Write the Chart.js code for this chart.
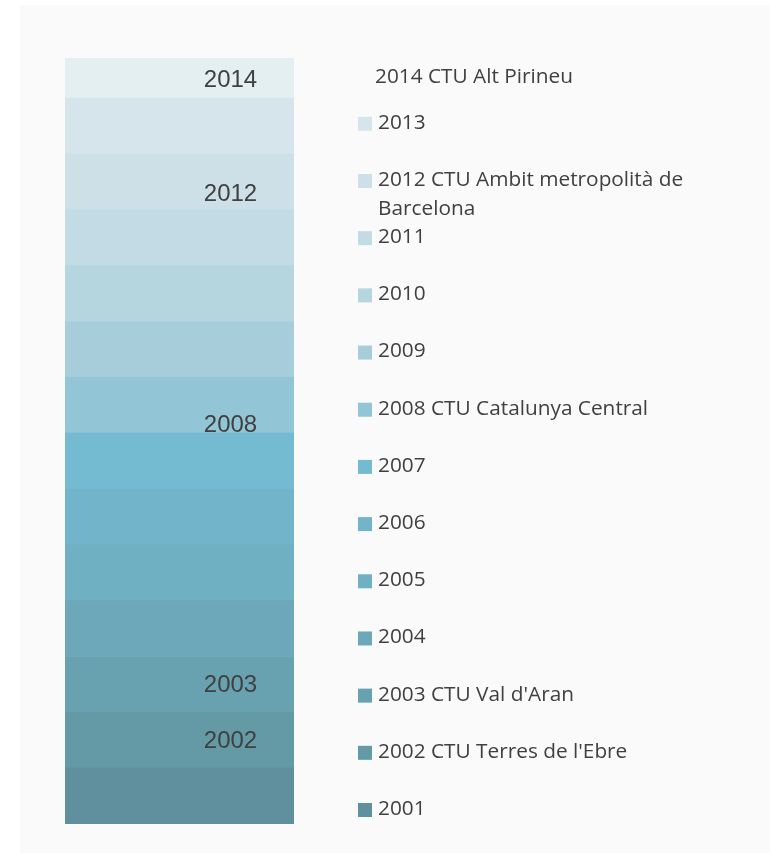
<!DOCTYPE html>
<html>
<head>
<meta charset="utf-8">
<title>CTU per any</title>
<script src="https://cdn.jsdelivr.net/npm/chart.js@4.4.1/dist/chart.umd.min.js"></script>
<style>
  html, body { margin: 0; padding: 0; background: #fff; }
  #wrap { position: relative; width: 770px; height: 853px; }
</style>
</head>
<body>
<div id="wrap"><canvas id="ctu" width="770" height="853"></canvas></div>
<script>
(function () {
  'use strict';

  // --- data (bottom of the stack first) ---
  const years = ['2001', '2002', '2003', '2004', '2005', '2006', '2007',
                 '2008', '2009', '2010', '2011', '2012', '2013', '2014'];
  const legendNames = [
    '2001',
    "2002 CTU Terres de l'Ebre",
    "2003 CTU Val d'Aran",
    '2004', '2005', '2006', '2007',
    '2008 CTU Catalunya Central',
    '2009', '2010', '2011',
    '2012 CTU Ambit metropolità de Barcelona',
    '2013',
    '2014 CTU Alt Pirineu'
  ];
  const segmentValues = [1, 1, 1, 1, 1, 1, 1, 1, 1, 1, 1, 1, 1, 0.72];
  const barLabels = ['', '2002', '2003', '', '', '', '', '2008', '', '', '', '2012', '', '2014'];

  // --- styling ---
  const colors = ['#60909d', '#6499a6', '#68a2b0', '#6ca8b9', '#6fb0c2', '#72b5ca', '#74bbd2',
                  '#92c5d6', '#a7ccda', '#b5d5df', '#c2dbe4', '#cde0e7', '#d6e5eb', '#e3eff1'];
  const labelNudge = { '2012': 11, '2008': 19, '2014': 1 };
  const noSwatch = { '2014': true };
  const INK = '#404040';
  const W = 770, H = 853;

  const panel = {
    id: 'panel',
    beforeDraw(chart) {
      const ctx = chart.ctx;
      ctx.save();
      ctx.fillStyle = '#fafafa';
      ctx.fillRect(20, 5, W - 20, H - 5);
      ctx.restore();
    }
  };

  // year numbers written inside the bar
  const segLabels = {
    id: 'segLabels',
    afterDatasetsDraw(chart) {
      const ctx = chart.ctx;
      ctx.save();
      ctx.font = '24px "Liberation Sans", Arial, sans-serif';
      ctx.fillStyle = INK;
      ctx.textAlign = 'center';
      ctx.textBaseline = 'middle';
      chart.data.datasets.forEach((ds, i) => {
        const txt = barLabels[i];
        if (!txt) return;
        const bar = chart.getDatasetMeta(i).data[0];
        const mid = (bar.y + bar.base) / 2 + (labelNudge[txt] || 0);
        ctx.fillText(txt, bar.x + 51, mid + 1);
      });
      ctx.restore();
    }
  };

  function wrap(ctx, text, maxW) {
    const words = text.split(' ');
    const lines = [];
    let cur = '';
    words.forEach(w => {
      const t = cur ? cur + ' ' + w : w;
      if (cur && ctx.measureText(t).width > maxW) { lines.push(cur); cur = w; }
      else cur = t;
    });
    if (cur) lines.push(cur);
    return lines;
  }

  // legend on the right, newest year on top, evenly spaced rows
  const sideLegend = {
    id: 'sideLegend',
    afterDraw(chart) {
      const ctx = chart.ctx;
      const step = 57.18, bottomY = 809;
      ctx.save();
      ctx.font = '20.8px "Open Sans", sans-serif';
      ctx.textBaseline = 'middle';
      ctx.textAlign = 'left';
      chart.data.datasets.forEach((ds, i) => {
        let y = bottomY - i * step;
        const yr = years[i];
        const boxed = !noSwatch[yr];
        if (!boxed) y += 11;
        if (boxed) {
          ctx.fillStyle = ds.backgroundColor;
          ctx.fillRect(358, y - 6, 14, 14);
        }
        ctx.fillStyle = INK;
        const x = boxed ? 378 : 375;
        wrap(ctx, ds.label, W - x - 20).forEach((ln, k) => ctx.fillText(ln, x, y + k * 29));
      });
      ctx.restore();
    }
  };

  const total = segmentValues.reduce((a, b) => a + b, 0);

  new Chart(document.getElementById('ctu'), {
    type: 'bar',
    data: {
      labels: ['CTU'],
      datasets: years.map((y, i) => ({
        label: legendNames[i],
        data: [segmentValues[i]],
        backgroundColor: colors[i],
        borderWidth: 0,
        barPercentage: 1,
        categoryPercentage: 1
      }))
    },
    options: {
      responsive: false,
      animation: false,
      devicePixelRatio: 1,
      layout: { padding: { left: 65, right: W - 294, top: 58, bottom: H - 824 } },
      plugins: { legend: { display: false }, tooltip: { enabled: false } },
      scales: {
        x: { stacked: true, display: false },
        y: { stacked: true, display: false, min: 0, max: total }
      }
    },
    plugins: [panel, segLabels, sideLegend]
  });
})();
</script>
</body>
</html>
